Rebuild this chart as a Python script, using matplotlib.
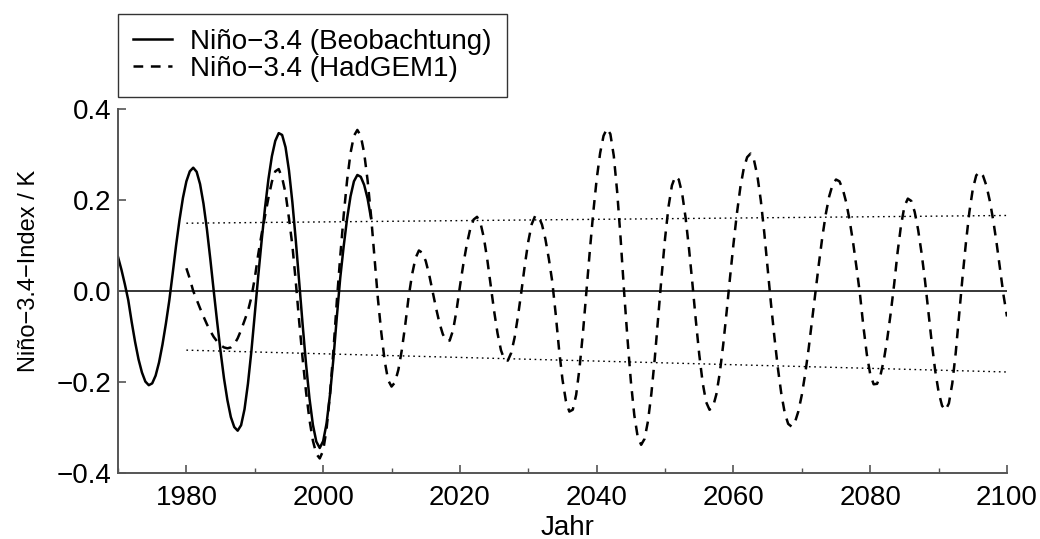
import numpy as np
import matplotlib
matplotlib.use("Agg")
import matplotlib.pyplot as plt
from matplotlib.ticker import MultipleLocator

plt.rcParams['font.family'] = ['Liberation Sans', 'DejaVu Sans']
plt.rcParams['lines.scale_dashes'] = False
plt.rcParams['axes.unicode_minus'] = True

# observed Nino-3.4 index, half-year samples 1970.0 .. 2007.0
obs_years = np.arange(1970.0, 2007.01, 0.5)
obs_vals = [
    0.075, 0.047, 0.015, -0.020, -0.068, -0.112, -0.150, -0.179, -0.199, -0.207,
    -0.203, -0.186, -0.157, -0.118, -0.072, -0.021, 0.039, 0.101, 0.157, 0.205,
    0.241, 0.263, 0.271, 0.262, 0.235, 0.192, 0.136, 0.070, 0.000, -0.068,
    -0.133, -0.192, -0.240, -0.277, -0.299, -0.307, -0.295, -0.260, -0.204, -0.133,
    -0.051, 0.032, 0.110, 0.183, 0.246, 0.296, 0.330, 0.347, 0.343, 0.316,
    0.265, 0.195, 0.111, 0.019, -0.074, -0.161, -0.236, -0.294, -0.331, -0.345,
    -0.330, -0.291, -0.228, -0.149, -0.057, 0.029, 0.098, 0.159, 0.208, 0.241,
    0.255, 0.251, 0.233, 0.203, 0.160,
]

# HadGEM1 Nino-3.4 index, half-year samples 1980.0 .. 2100.0
mod_years = np.arange(1980.0, 2100.01, 0.5)
mod_vals = [
    # 1980-1989.5
    0.050, 0.027, 0.000, -0.019, -0.038, -0.056, -0.073, -0.088, -0.101, -0.111,
    -0.119, -0.124, -0.126, -0.124, -0.117, -0.104, -0.086, -0.065, -0.044, -0.014,
    # 1990-1999.5
    0.028, 0.080, 0.125, 0.165, 0.205, 0.240, 0.263, 0.268, 0.249, 0.215,
    0.160, 0.100, 0.020, -0.068, -0.149, -0.222, -0.283, -0.329, -0.358, -0.368,
    # 2000-2009.5
    -0.351, -0.303, -0.227, -0.131, -0.022, 0.076, 0.166, 0.243, 0.303, 0.341,
    0.354, 0.341, 0.303, 0.243, 0.166, 0.076, -0.016, -0.091, -0.154, -0.196,
    # 2010-2019.5
    -0.210, -0.201, -0.173, -0.130, -0.075, -0.013, 0.036, 0.072, 0.089, 0.084,
    0.066, 0.036, 0.000, -0.037, -0.070, -0.095, -0.109, -0.109, -0.086, -0.043,
    # 2020-2029.5
    0.010, 0.059, 0.102, 0.136, 0.157, 0.163, 0.150, 0.117, 0.069, 0.012,
    -0.044, -0.093, -0.130, -0.151, -0.153, -0.136, -0.102, -0.054, 0.000, 0.058,
    # 2030-2039.5
    0.109, 0.147, 0.165, 0.164, 0.146, 0.114, 0.071, 0.021, -0.050, -0.129,
    -0.195, -0.242, -0.265, -0.261, -0.228, -0.168, -0.090, 0.000, 0.089, 0.173,
    # 2040-2049.5
    0.246, 0.303, 0.341, 0.357, 0.345, 0.297, 0.217, 0.115, 0.000, -0.104,
    -0.199, -0.273, -0.321, -0.338, -0.325, -0.286, -0.225, -0.147, -0.056, 0.034,
    # 2050-2059.5
    0.116, 0.185, 0.232, 0.252, 0.245, 0.214, 0.161, 0.093, 0.016, -0.065,
    -0.140, -0.202, -0.244, -0.261, -0.255, -0.227, -0.180, -0.118, -0.046, 0.030,
    # 2060-2069.5
    0.103, 0.170, 0.227, 0.269, 0.294, 0.302, 0.288, 0.253, 0.199, 0.129,
    0.050, -0.030, -0.103, -0.170, -0.226, -0.268, -0.292, -0.298, -0.288, -0.264,
    # 2070-2079.5
    -0.228, -0.181, -0.126, -0.064, 0.000, 0.061, 0.119, 0.169, 0.208, 0.234,
    0.245, 0.241, 0.223, 0.194, 0.154, 0.106, 0.051, -0.007, -0.078, -0.139,
    # 2080-2089.5
    -0.183, -0.205, -0.204, -0.185, -0.151, -0.104, -0.048, 0.015, 0.085, 0.144,
    0.186, 0.203, 0.198, 0.174, 0.135, 0.084, 0.024, -0.044, -0.114, -0.175,
    # 2090-2099.5
    -0.222, -0.252, -0.262, -0.247, -0.203, -0.136, -0.053, 0.031, 0.107, 0.174,
    0.224, 0.254, 0.262, 0.253, 0.231, 0.197, 0.154, 0.103, 0.047, -0.010,
    # 2100
    -0.056,
]

# linear trends of the model's upper / lower envelope
trend_years = [1980, 2100]
trend_upper = [0.149, 0.166]
trend_lower = [-0.130, -0.178]

assert len(obs_years) == len(obs_vals)
assert len(mod_years) == len(mod_vals)

fig = plt.figure(figsize=(10.4, 5.39), dpi=100)
ax = fig.add_axes([118 / 1040, 1 - 473 / 539, (1007 - 118) / 1040, (473 - 109) / 539])

ax.axhline(0, color='black', lw=1.1, zorder=1)
ax.plot(trend_years, trend_upper, color='black', lw=1.0, dashes=(1.2, 2.6))
ax.plot(trend_years, trend_lower, color='black', lw=1.0, dashes=(1.2, 2.6))
ax.plot(obs_years, obs_vals, color='black', lw=1.8, solid_joinstyle='round',
        label='Niño\u22123.4 (Beobachtung)')
ax.plot(mod_years, mod_vals, color='black', lw=1.8, dashes=(7, 5.5),
        dash_joinstyle='round', label='Niño\u22123.4 (HadGEM1)')

ax.set_xlim(1970, 2100)
ax.set_ylim(-0.4, 0.4)
ax.xaxis.set_major_locator(MultipleLocator(20))
ax.xaxis.set_minor_locator(MultipleLocator(10))
ax.yaxis.set_major_locator(MultipleLocator(0.2))
ax.yaxis.set_major_formatter(
    matplotlib.ticker.FuncFormatter(lambda v, p: f'{v:.1f}'.replace('-', '\u2212')))

for s in ['top', 'right']:
    ax.spines[s].set_visible(False)
for s in ['left', 'bottom']:
    ax.spines[s].set_color('#555555')
    ax.spines[s].set_linewidth(1.4)

ax.tick_params(axis='both', which='major', direction='in', length=6, width=1.2,
               color='#555555', labelsize=20)
ax.tick_params(axis='x', which='minor', direction='in', length=3.5, width=1.0,
               color='#555555')
ax.tick_params(axis='x', which='major', pad=8.5)
ax.tick_params(axis='y', which='major', pad=5)

ax.set_xlabel('Jahr', fontsize=20)
ax.xaxis.set_label_coords(0.506, -0.115)
ax.set_ylabel('Niño\u22123.4\u2212Index / K', fontsize=17)
ax.yaxis.set_label_coords(-0.088, 0.555)

leg = ax.legend(loc='lower left', bbox_to_anchor=(118 / 1040, 1 - 97 / 539),
                bbox_transform=fig.transFigure, borderaxespad=0,
                fontsize=20, frameon=True, fancybox=False, handlelength=1.4,
                handletextpad=0.65, labelspacing=0.02, borderpad=0.55)
leg.get_frame().set_edgecolor('black')
leg.get_frame().set_linewidth(1.0)

fig.savefig('out.png', dpi=100)
